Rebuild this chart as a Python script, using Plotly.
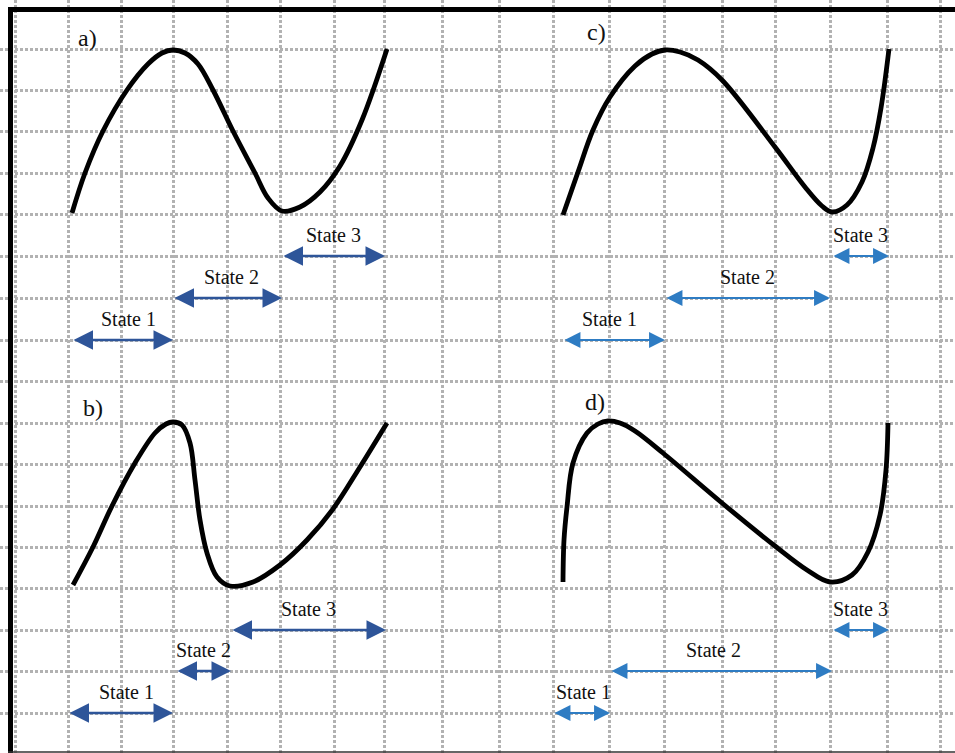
import plotly.graph_objects as go

# ---- data (canvas units, y grows downward) ----
grid_x = [15, 68, 121, 173, 227, 280, 334, 384, 442, 499, 553, 609, 664, 722, 775, 830, 887, 940]
grid_y = [49, 90, 131, 173, 214, 256, 298, 340, 381, 423, 464, 506, 547, 588, 630, 671, 713]

a_x = [72, 85, 103, 127, 148, 162, 173, 185, 198, 213, 233, 255, 268, 282, 300, 320, 340, 362, 387]
a_y = [213, 173, 131, 90, 64, 53, 50, 53, 64, 90, 131, 173, 198, 211, 207, 192, 166, 120, 49]

b_x = [73, 93, 112, 135, 155, 166, 173, 182, 190, 195, 200, 207, 217, 230, 253, 280, 307, 333, 360, 387]
b_y = [585, 547, 506, 463, 433, 424, 422, 425, 443, 480, 520, 553, 577, 586, 582, 565, 540, 509, 467, 423]

c_x = [563, 578, 593, 610, 635, 652, 665, 680, 698, 722, 775, 805, 822, 832, 847, 862, 873, 881, 889]
c_y = [215, 172, 130, 97, 66, 54, 50, 52, 60, 80, 147, 187, 206, 212, 205, 182, 148, 108, 49]

d_x = [563, 564, 567, 573, 587, 598, 608, 620, 635, 663, 722, 775, 807, 830, 852, 868, 880, 886, 888]
d_y = [582, 540, 507, 463, 433, 424, 421, 423, 431, 453, 503, 546, 570, 582, 575, 552, 515, 470, 423]

panel_labels = ["a)", "b)", "c)", "d)"]
panel_label_x = [87, 93, 596, 595]
panel_label_y = [38, 408, 32, 402]

state_names = ["State 1", "State 2", "State 3"] * 4
arrow_x0 = [72, 173, 282, 68, 176, 231, 563, 665, 832, 553, 610, 832]
arrow_x1 = [173, 282, 385, 173, 231, 386, 665, 830, 889, 610, 832, 889]
arrow_y = [340, 298, 256, 713, 671, 630, 340, 298, 256, 713, 671, 630]
label_dx = [6, 4, 0, 6, 0, 0, -5, 0, 0, 2, -8, 0]
arrow_panel = ["a"] * 3 + ["b"] * 3 + ["c"] * 3 + ["d"] * 3

DARK = "#2E5599"
LIGHT = "#2E7CC3"

fig = go.Figure()
for xs, ys in [(a_x, a_y), (b_x, b_y), (c_x, c_y), (d_x, d_y)]:
    fig.add_trace(go.Scatter(x=xs, y=ys, mode="lines",
                             line=dict(color="black", width=4.8, shape="spline", smoothing=1.0),
                             hoverinfo="skip", showlegend=False))

annotations = []
for lab, lx, ly in zip(panel_labels, panel_label_x, panel_label_y):
    annotations.append(dict(x=lx, y=ly, xref="x", yref="y", text=lab, showarrow=False,
                            font=dict(family="Liberation Serif", size=24, color="#111")))

for name, x0, x1, y, dx, p in zip(state_names, arrow_x0, arrow_x1, arrow_y, label_dx, arrow_panel):
    col = DARK if p in ("a", "b") else LIGHT
    w = 2.6 if p in ("a", "b") else 2.2
    sz = 1.5 if p in ("a", "b") else 1.45
    annotations.append(dict(x=x1, y=y, ax=x0, ay=y, xref="x", yref="y", axref="x", ayref="y",
                            text="", showarrow=True, arrowhead=2, startarrowhead=2,
                            arrowside="end+start", arrowsize=sz, startarrowsize=sz,
                            arrowwidth=w, arrowcolor=col, standoff=0, startstandoff=0))
    annotations.append(dict(x=(x0 + x1) / 2 + dx, y=y - 21, xref="x", yref="y", text=name,
                            showarrow=False,
                            font=dict(family="Liberation Serif", size=20, color="#111")))

shapes = [
    dict(type="line", xref="x", yref="y", x0=8, x1=955, y0=9.5, y1=9.5,
         line=dict(color="black", width=5)),
    dict(type="line", xref="x", yref="y", x0=10.5, x1=10.5, y0=7, y1=753,
         line=dict(color="black", width=5)),
    dict(type="line", xref="x", yref="y", x0=8, x1=955, y0=752, y1=752,
         line=dict(color="#333", width=1.5)),
]

fig.update_layout(
    width=955, height=753, autosize=False,
    margin=dict(l=0, r=0, t=0, b=0),
    paper_bgcolor="white", plot_bgcolor="white",
    annotations=annotations, shapes=shapes,
    xaxis=dict(range=[0, 955], tickvals=grid_x, showticklabels=False, ticks="",
               showgrid=True, gridcolor="#b2b2b2", gridwidth=2.5, griddash="2.5px,2.5px",
               zeroline=False, showline=False, fixedrange=True),
    yaxis=dict(range=[753, 0], tickvals=grid_y, showticklabels=False, ticks="",
               showgrid=True, gridcolor="#b2b2b2", gridwidth=2.5, griddash="2.5px,2.5px",
               zeroline=False, showline=False, fixedrange=True),
)

fig.write_html("out.html", config={"displayModeBar": False})
with open("out.html", "r", encoding="utf-8") as f:
    html = f.read()
html = html.replace("<head>", "<head><style>html,body{margin:0;padding:0;}</style>", 1)
with open("out.html", "w", encoding="utf-8") as f:
    f.write(html)
